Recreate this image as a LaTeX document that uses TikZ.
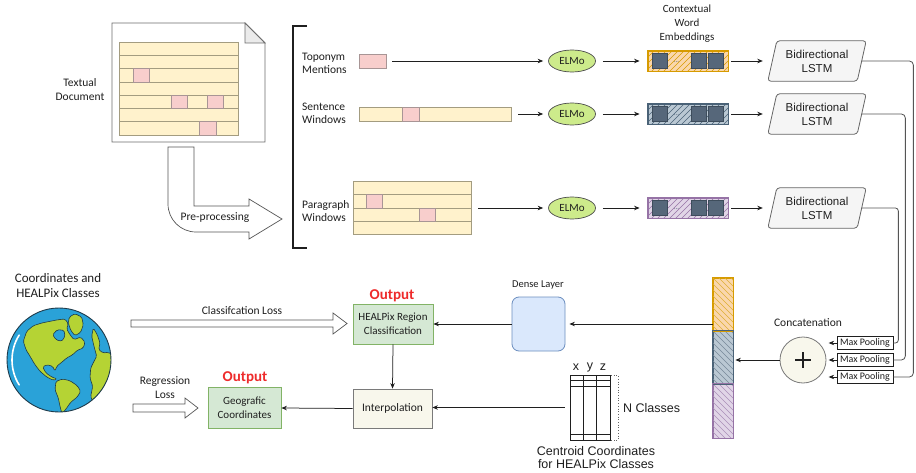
\documentclass[tikz,border=0pt]{standalone}
\usepackage{fontspec}
\setmainfont{Carlito}
\newfontfamily\arialfont{Liberation Sans}
\usetikzlibrary{shapes.geometric,arrows.meta,calc}
\pgfdeclarelayer{background}
\pgfsetlayers{background,main}

\definecolor{ink}{HTML}{1F1F1F}
\definecolor{wiregray}{HTML}{555555}
\definecolor{pageline}{HTML}{6E6E6E}
\definecolor{rowfill}{HTML}{FFF2CC}
\definecolor{rowline}{HTML}{A39C80}
\definecolor{pinkfill}{HTML}{F8CECC}
\definecolor{pinkline}{HTML}{A89595}
\definecolor{elmofill}{HTML}{CDEB8B}
\definecolor{elmoline}{HTML}{4D4D4D}
\definecolor{orfill}{HTML}{FAD7AC}
\definecolor{orline}{HTML}{D79B00}
\definecolor{blfill}{HTML}{BAC8D3}
\definecolor{blline}{HTML}{4A6277}
\definecolor{pufill}{HTML}{E1D5E7}
\definecolor{puline}{HTML}{9673A6}
\definecolor{tokfill}{HTML}{56677A}
\definecolor{tokline}{HTML}{3E4D5C}
\definecolor{lstmfill}{HTML}{F5F5F5}
\definecolor{lstmline}{HTML}{666666}
\definecolor{densefill}{HTML}{DAE8FC}
\definecolor{denseline}{HTML}{6C8EBF}
\definecolor{outfill}{HTML}{D5E8D4}
\definecolor{outborder}{HTML}{82B366}
\definecolor{creamfill}{HTML}{F8F7EC}
\definecolor{boxgray}{HTML}{7A7A7A}
\definecolor{outred}{HTML}{EE2B2B}
\definecolor{seablue}{HTML}{2AA2D8}
\definecolor{landgreen}{HTML}{B5D334}
\definecolor{globeline}{HTML}{1E3A4A}

\tikzset{
  txt/.style={font=\fontsize{11.5}{13.5}\selectfont, text=ink, inner sep=0pt, align=center},
  txtl/.style={txt, align=left},
  atxt/.style={font=\arialfont\fontsize{12.5}{12.5}\selectfont, text=ink, inner sep=0pt, align=center},
  outlbl/.style={font=\bfseries\fontsize{15}{17}\selectfont, text=outred, inner sep=0pt},
  flow/.style={draw=ink, line width=0.75pt, -{Stealth[length=5.5pt,width=4.5pt]}},
  wire/.style={draw=wiregray, line width=0.8pt, rounded corners=4pt},
  textrow/.style={draw=rowline, fill=rowfill, line width=0.6pt},
  mention/.style={draw=pinkline, fill=pinkfill, line width=0.6pt},
  blockarrow/.style={draw=wiregray, fill=white, line width=0.7pt, line join=miter},
  elmo/.style={ellipse, draw=elmoline, fill=elmofill, line width=0.7pt, minimum width=47pt,
    minimum height=22pt, inner sep=0pt, font=\fontsize{11}{13}\selectfont, text=ink},
  embed/.style={draw=#1line, fill=#1fill, line width=0.8pt, minimum width=80pt, minimum height=20pt, inner sep=0pt},
  barseg/.style={draw=#1line, fill=#1fill, line width=0.8pt, minimum width=20pt, inner sep=0pt},
  hatch/.style={draw=#1, line width=0.45pt},
  token/.style={draw=tokline, fill=tokfill, minimum size=15pt, inner sep=0pt, line width=0.6pt},
  lstm/.style={minimum width=98pt, minimum height=40pt, inner sep=0pt, align=center,
    font=\arialfont\fontsize{11.5}{14}\selectfont, text=ink},
  lstmshape/.style={draw=lstmline, fill=lstmfill, line width=0.8pt, rounded corners=3pt},
  pool/.style={draw=ink, fill=white, line width=0.7pt, minimum width=56pt, minimum height=13pt,
    inner sep=0pt, font=\fontsize{10}{12}\selectfont, text=ink},
  outbox/.style={draw=outborder, fill=outfill, line width=0.8pt, inner sep=0pt, align=center,
    font=\fontsize{11}{14}\selectfont, text=ink},
  land/.style={fill=landgreen, draw=globeline, line width=0.6pt, rounded corners=1.5pt},
}

\begin{document}
\begin{tikzpicture}[x=1pt,y=-1pt]
\useasboundingbox (0,0) rectangle (916,473);
\begin{pgfonlayer}{background}
  \fill[white] (0,0) rectangle (916,473);
\end{pgfonlayer}

% ---------------- textual document page ----------------
\draw[draw=pageline, fill=white, line width=0.8pt] (112,23) -- (245,23) -- (265,43) -- (265,142) -- (112,142) -- cycle;
\draw[draw=pageline, fill=black!8, line width=0.8pt] (245,23) -- (245,43) -- (265,43) -- cycle;
\foreach \k in {0,...,6}
  \draw[textrow] (119,{42+\k*13.29}) rectangle (238,{42+(\k+1)*13.29});
\draw[mention] (133,68.58) rectangle (149,81.87);
\draw[mention] (171,95.16) rectangle (187,108.45);
\draw[mention] (207,95.16) rectangle (223,108.45);
\draw[mention] (199,121.74) rectangle (216,135.03);
\node[txt] (doclabel) at (80,89.5) {Textual\\Document};

% ---------------- pre-processing arrow ----------------
\draw[blockarrow] (168,147) -- (194,147) -- (194,206) -- (249,206) -- (249,199) -- (282,219)
  -- (249,239) -- (249,232) -- (196,232) .. controls (180.5,232) and (168,219.5) .. (168,204) -- cycle;
\node[txt] (prelabel) at (215,218) {Pre-processing};

% ---------------- bracket of input granularities ----------------
\draw[draw=ink, line width=1.6pt] (307,26) -- (293,26) -- (293,248) -- (307,248);

\node[txtl, anchor=west] (lab-topo) at (302,63.5) {Toponym\\Mentions};
\node[txtl, anchor=west] (lab-sent) at (302,113.5) {Sentence\\Windows};
\node[txtl, anchor=west] (lab-para) at (302,211) {Paragraph\\Windows};

% toponym mention
\node[mention, minimum width=27pt, minimum height=14pt, inner sep=0pt] (topo) at (372.5,61) {};
% sentence window
\node[textrow, minimum width=152pt, minimum height=14pt, inner sep=0pt] (sent) at (435,114) {};
\draw[mention] (402,107) rectangle (419,121);
% paragraph window
\node[textrow, minimum width=118pt, minimum height=53pt, inner sep=0pt] (para) at (412,208) {};
\foreach \k in {0,...,3}
  \draw[textrow] (353,{181.5+\k*13.25}) rectangle (471,{181.5+(\k+1)*13.25});
\draw[mention] (366,194.75) rectangle (382,208);
\draw[mention] (419,208) rectangle (435,221.25);

% ---------------- ELMo encoders ----------------
\node[elmo] (elmo1) at (572,61) {ELMo};
\node[elmo] (elmo2) at (572,114) {ELMo};
\node[elmo] (elmo3) at (572,208) {ELMo};

\draw[flow, shorten <=6pt, shorten >=5pt] (topo.east) -- (elmo1.west);
\draw[flow, shorten <=7pt, shorten >=5pt] (sent.east) -- (elmo2.west);
\draw[flow, shorten <=7pt, shorten >=5pt] (para.east) -- (elmo3.west);

% ---------------- contextual word embeddings ----------------
\node[txt, font=\fontsize{11}{14}\selectfont] (lab-emb) at (687,24) {Contextual\\Word\\Embeddings};
\node[embed=or] (emb1) at (688,61) {};
\node[embed=bl] (emb2) at (688,114) {};
\node[embed=pu] (emb3) at (688,208) {};
\foreach \e/\c in {emb1/orline,emb2/blline,emb3/puline}{
  \begin{scope}
    \clip (\e.south west) rectangle (\e.north east);
    \foreach \s in {-20,-14,...,82}
      \draw[hatch=\c] ($(\e.south west)+(\s,0)$) -- ++(20,-20);
  \end{scope}
  \draw[draw=\c, line width=0.8pt] (\e.south west) rectangle (\e.north east);
  \node[token] (\e-a) at ($(\e.west)+(12.5,0)$) {};
  \node[token] (\e-b) at ($(\e.west)+(51,0)$) {};
  \node[token] (\e-c) at ($(\e.west)+(68,0)$) {};
  \node[font=\fontsize{7}{7}\selectfont, text=tokfill, inner sep=0pt] (\e-dots) at ($(\e.west)+(29,1)$) {...};
}
\draw[flow, shorten <=7pt, shorten >=8pt] (elmo1.east) -- (emb1.west);
\draw[flow, shorten <=7pt, shorten >=8pt] (elmo2.east) -- (emb2.west);
\draw[flow, shorten <=7pt, shorten >=8pt] (elmo3.east) -- (emb3.west);

% ---------------- bidirectional LSTMs ----------------
\node[lstm] (lstm1) at (817,61) {Bidirectional\\LSTM};
\node[lstm] (lstm2) at (817,114) {Bidirectional\\LSTM};
\node[lstm] (lstm3) at (817,208) {Bidirectional\\LSTM};
\begin{pgfonlayer}{background}
\foreach \n in {lstm1,lstm2,lstm3}
  \draw[lstmshape] ($(\n.north west)+(9,0)$) -- (\n.north east) -- ($(\n.south east)+(-9,0)$) -- (\n.south west) -- cycle;
\end{pgfonlayer}
\draw[flow, shorten <=3pt, shorten >=5pt] (emb1.east) -- (lstm1.west);
\draw[flow, shorten <=3pt, shorten >=5pt] (emb2.east) -- (lstm2.west);
\draw[flow, shorten <=3pt, shorten >=5pt] (emb3.east) -- (lstm3.west);

% ---------------- max pooling and concatenation ----------------
\node[pool] (mp1) at (865,343) {Max Pooling};
\node[pool] (mp2) at (865,360) {Max Pooling};
\node[pool] (mp3) at (865,377) {Max Pooling};

\draw[wire] ($(lstm1.east)+(-4.5,0)$) -| ($(mp3.east)+(20,0)$) -- (mp3.east);
\draw[wire] ($(lstm2.east)+(-4.5,0)$) -| ($(mp2.east)+(12,0)$) -- (mp2.east);
\draw[wire, rounded corners=3pt] ($(lstm3.east)+(-4.5,0)$) -| ($(mp1.east)+(5,0)$) -- (mp1.east);

\node[circle, draw=boxgray, fill=creamfill, line width=0.8pt, minimum size=46pt, inner sep=0pt] (cat) at (803,360) {};
\draw[ink, line width=1.5pt] ($(cat.center)+(-8,0)$) -- ($(cat.center)+(8,0)$);
\draw[ink, line width=1.5pt] ($(cat.center)+(0,-8)$) -- ($(cat.center)+(0,8)$);
\node[txt] (lab-cat) at (808,323) {Concatenation};

\coordinate (mp1in) at ($(mp1.west)+(-8,0)$);
\coordinate (mp2in) at ($(mp2.west)+(-8,0)$);
\coordinate (mp3in) at ($(mp3.west)+(-8,0)$);
\draw[flow] (mp1.west) -- (mp1in);
\draw[flow] (mp2.west) -- (mp2in);
\draw[flow] (mp3.west) -- (mp3in);

% concatenated feature vector
\node[barseg=or, minimum height=53pt] (bar1) at (723,304.5) {};
\node[barseg=bl, minimum height=53pt] (bar2) at (723,357.5) {};
\node[barseg=pu, minimum height=54pt] (bar3) at (723,411) {};
\foreach \b/\c in {bar1/orline!80,bar2/blline!75,bar3/puline!80}{
  \begin{scope}
    \clip (\b.south west) rectangle (\b.north east);
    \foreach \s in {-60,-54,...,22}
      \draw[hatch=\c, line width=0.4pt] ($(\b.north west)+(\s,0)$) -- ++(60,60);
  \end{scope}
}
\foreach \b/\c in {bar1/orline,bar2/blline,bar3/puline}
  \draw[draw=\c, line width=0.7pt] (\b.south west) rectangle (\b.north east);
\draw[flow, shorten >=2pt] (cat.west) -- (cat.west -| bar2.east);

% ---------------- dense layer and outputs ----------------
\node[draw=denseline, fill=densefill, line width=0.8pt, rounded corners=7pt, minimum width=53pt,
  minimum height=54pt, inner sep=0pt] (dense) at (538.5,324) {};
\node[txt, font=\fontsize{10.5}{12}\selectfont] (lab-dense) at (538,285) {Dense Layer};
\draw[flow, shorten >=4pt] (bar1.west |- dense.east) -- (dense.east);

\node[outbox, minimum width=80pt, minimum height=40pt] (heal) at (393,324) {HEALPix Region\\Classification};
\node[outlbl] (out-heal) at (392,296) {Output};
\draw[flow] (dense.west) -- (heal.east);

\node[draw=boxgray, fill=creamfill, line width=0.8pt, minimum width=79pt, minimum height=39pt,
  inner sep=0pt, font=\fontsize{11.5}{14}\selectfont, text=ink] (interp) at (392.5,408.5) {Interpolation};
\draw[flow] (heal.south) -- (interp.north);

\node[outbox, minimum width=73pt, minimum height=41pt] (geo) at (244.5,408) {Geografic\\Coordinates};
\node[outlbl] (out-geo) at (245,378) {Output};
\draw[flow] (interp.west) -- (geo.east);

% ---------------- centroid coordinate table ----------------
\node[draw=ink, line width=0.7pt, minimum width=40pt, minimum height=65pt, inner sep=0pt] (tab) at (590,407.5) {};
\draw[ink, line width=0.7pt] (583,375) -- (583,440) (596,375) -- (596,440);
\draw[ink, line width=0.7pt] (570,380) -- (610,380) (570,386) -- (610,386) (570,434) -- (610,434);
\node[atxt] (tab-x) at (576,367) {x};
\node[atxt] (tab-y) at (590,367) {y};
\node[atxt] (tab-z) at (603,367) {z};
\draw[ink!70, line width=0.7pt, dotted] (611,375) -- (618,375) -- (618,440) -- (611,440);
\node[atxt, anchor=west] (lab-n) at (623,408) {N Classes};
\node[atxt, align=center] (lab-tab) at (596,457.5) {Centroid Coordinates\\for HEALPix Classes};
\draw[flow, shorten <=5pt] (tab.west) -- (tab.west -| interp.east);

% ---------------- losses ----------------
\draw[blockarrow] (131,320) -- (333,320) -- (333,313) -- (347,323.5) -- (333,334) -- (333,327) -- (131,327) -- cycle;
\node[txt] (lab-cls) at (242,311) {Classifcation Loss};
\draw[blockarrow] (133,404) -- (185,404) -- (185,398) -- (198,408) -- (185,418) -- (185,412) -- (133,412) -- cycle;
\node[txt] (lab-reg) at (165,387.5) {Regression\\Loss};

% ---------------- globe ----------------
\node[txt, font=\fontsize{13}{15}\selectfont] (lab-globe) at (58,285.5) {Coordinates and\\HEALPix Classes};
\node[circle, fill=seablue, minimum size=104pt, inner sep=0pt] (globe) at (59,360) {};
\begin{scope}
  \clip (globe.center) circle[radius=52];
  % the Americas
  \draw[land] (23.3,341.3) -- (26.7,331.3) -- (33.3,325.7) -- (41.7,323) -- (50,321.3) -- (58.3,319.7)
    -- (65,319) -- (68.3,323.7) -- (66.7,329) -- (70,334.7) -- (74,339.7) -- (80.7,337) -- (85,342.3)
    -- (83.3,348) -- (77.3,350.3) -- (72.7,354.7) -- (66.7,358) -- (61.7,362.3) -- (56.7,366.3)
    -- (55,371.3) -- (52.7,366.3) -- (46.7,364.7) -- (42.7,367) -- (46,373) -- (51.7,377) -- (57.3,379)
    -- (53.3,380.3) -- (46.7,377) -- (40,371.3) -- (35,364.7) -- (30,356.3) -- (26,349.7) -- cycle;
  % Hudson Bay
  \draw[land, fill=seablue] (52.7,334.7) -- (57.3,329.7) -- (64,330.3) -- (65,336.3) -- (61.7,341.3) -- (56,339.7) -- cycle;
  % Greenland
  \draw[land] (69.3,317) -- (75,313.7) -- (81.7,317) -- (83.3,324.7) -- (80.7,332.3) -- (75,335.7) -- (70.7,330.3) -- (68.3,323) -- cycle;
  % South America
  \draw[land] (56,381.3) -- (62.7,379) -- (70,380.7) -- (77.3,385.7) -- (80.7,391.3) -- (77.3,397) -- (70.7,402.3)
    -- (66,409) -- (62,413.7) -- (60,406.3) -- (58.3,398) -- (55,389.7) -- cycle;
  % Europe and Africa
  \draw[land] (93.3,328) -- (97.3,334.7) -- (100,343) -- (98.7,349.7) -- (103.3,353) -- (108.3,352.3) -- (115,356.3)
    -- (115,390) -- (106.7,394.7) -- (100,399.7) -- (93.3,403.7) -- (90.7,396.3) -- (92.7,386.3) -- (90,378)
    -- (90.7,368) -- (94,361.3) -- (96.7,356.3) -- (94,346.3) -- (91.7,336.3) -- cycle;
\end{scope}
\draw[globeline, line width=0.9pt] (globe.center) circle[radius=52];
\draw[white, line width=1.6pt, line cap=round] (globe.center) ++(-148:47) arc[start angle=-148, end angle=-212, radius=47];

\end{tikzpicture}
\end{document}
